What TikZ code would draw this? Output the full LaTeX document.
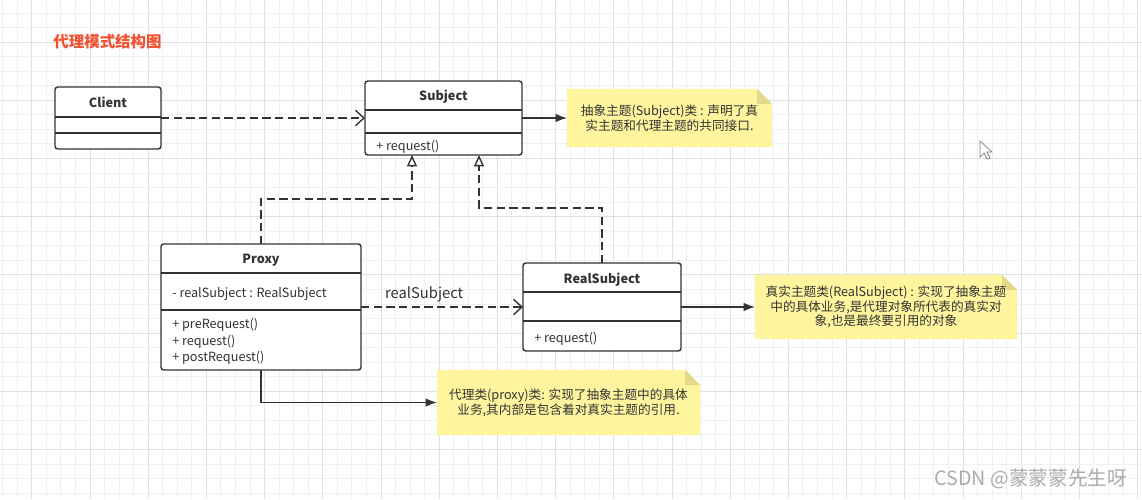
\documentclass[tikz,border=0pt]{standalone}
\usepackage{fontspec}
\setmainfont{Noto Sans CJK SC}
\usetikzlibrary{arrows.meta,calc}

\pgfdeclarelayer{grid}
\pgfdeclarelayer{background}
\pgfsetlayers{grid,background,main}

\definecolor{linec}{RGB}{51,51,51}
\definecolor{notey}{RGB}{255,245,158}
\definecolor{notefold}{RGB}{228,216,138}
\definecolor{titlec}{RGB}{242,82,50}
\definecolor{gridmin}{RGB}{240,240,242}
\definecolor{gridmaj}{RGB}{224,224,228}
\definecolor{markc}{RGB}{172,172,172}

\begin{document}
\begin{tikzpicture}[x=0.025cm, y=-0.025cm]

\tikzstyle{box}=[draw=linec, line width=1pt, rounded corners=2pt, fill=white, inner sep=0pt, outer sep=0pt]
\tikzstyle{sep}=[draw=linec, line width=1pt]
\tikzstyle{head}=[font=\fontsize{9}{11}\selectfont\bfseries, text=linec, inner sep=0pt]
\tikzstyle{attr}=[font=\fontsize{9}{11.6}\selectfont, text=linec, inner sep=0pt, anchor=west, align=left]
\tikzstyle{note}=[inner sep=0pt, outer sep=0pt, align=center, text=linec, font=\fontsize{9}{10.5}\selectfont]
\tikzstyle{dep}=[draw=linec, line width=1pt, dash pattern=on 6pt off 3pt]
\tikzstyle{link}=[draw=linec, line width=1pt]
\tikzstyle{openarrow}=[-{Straight Barb[length=6pt,width=11pt,line width=1pt]}]
\tikzstyle{inherit}=[-{Triangle[open,length=8pt,width=7pt,line width=1pt,fill=white]}]
\tikzstyle{fillarrow}=[-{Latex[length=8pt,width=6pt]}]

\useasboundingbox (0,0) rectangle (1142,499);

% grid of the canvas
\begin{pgfonlayer}{grid}
\fill[white] (0,0) rectangle (1142,499);
\foreach \k in {0,...,78} {
  \pgfmathsetmacro{\gx}{2.7+14.55*\k}
  \pgfmathtruncatemacro{\m}{mod(\k,4)}
  \ifnum\m=2 \draw[gridmaj, line width=0.7pt] (\gx,0) -- (\gx,499);
  \else \draw[gridmin, line width=0.7pt] (\gx,0) -- (\gx,499); \fi
}
\foreach \k in {0,...,33} {
  \pgfmathsetmacro{\gy}{13+14.55*\k}
  \pgfmathtruncatemacro{\m}{mod(\k,4)}
  \ifnum\m=2 \draw[gridmaj, line width=0.7pt] (0,\gy) -- (1142,\gy);
  \else \draw[gridmin, line width=0.7pt] (0,\gy) -- (1142,\gy); \fi
}
\end{pgfonlayer}

\node (title) [font=\fontsize{11}{13}\selectfont\bfseries, text=titlec, inner sep=0pt] at (107.5,42) {代理模式结构图};

% classes
\node (client) [box, minimum width=2.65cm, minimum height=1.55cm] at (108,118) {};
\draw[sep] (client.west |- 0,117) -- (client.east |- 0,117);
\draw[sep] (client.west |- 0,133) -- (client.east |- 0,133);
\node (clientT) [head] at (108,102.5) {Client};

\node (subject) [box, minimum width=3.925cm, minimum height=1.85cm] at (443.5,118) {};
\draw[sep] (subject.west |- 0,110) -- (subject.east |- 0,110);
\draw[sep] (subject.west |- 0,133) -- (subject.east |- 0,133);
\node (subjectT) [head] at (443.5,97) {Subject};
\node (subjectM) [attr] at (376,146.5) {+ request()};

\node (proxy) [box, minimum width=5cm, minimum height=3.15cm] at (261,307) {};
\draw[sep] (proxy.west |- 0,273) -- (proxy.east |- 0,273);
\draw[sep] (proxy.west |- 0,310) -- (proxy.east |- 0,310);
\node (proxyT) [head] at (261,260.5) {Proxy};
\node (proxyA) [attr] at (172,293.5) {- realSubject : RealSubject};
\node (proxyM) [attr] at (172,341.5) {+ preRequest()\\+ request()\\+ postRequest()};

\node (real) [box, minimum width=3.95cm, minimum height=2.2cm] at (602,307) {};
\draw[sep] (real.west |- 0,292) -- (real.east |- 0,292);
\draw[sep] (real.west |- 0,321) -- (real.east |- 0,321);
\node (realT) [head] at (602,279.5) {RealSubject};
\node (realM) [attr] at (534,338.5) {+ request()};

% notes
\node (note1) [note, minimum width=5.125cm, minimum height=1.45cm] at (669.5,118)
  {抽象主题(Subject)类 : 声明了真\\实主题和代理主题的共同接口.};
\node (note2) [note, minimum width=6.575cm, minimum height=1.625cm] at (568.5,402.5)
  {代理类(proxy)类: 实现了抽象主题中的具体\\业务,其内部是包含着对真实主题的引用.};
\node (note3) [note, minimum width=6.55cm, minimum height=1.6cm] at (886,307)
  {真实主题类(RealSubject) : 实现了抽象主题\\中的具体业务,是代理对象所代表的真实对\\象,也是最终要引用的对象};

\begin{pgfonlayer}{background}
\foreach \n in {note1,note2,note3} {
  \fill[notey] (\n.south west) -- (\n.north west) -- ([xshift=-0.375cm]\n.north east)
    -- ([yshift=-0.375cm]\n.north east) -- (\n.south east) -- cycle;
  \fill[notefold] ([xshift=-0.375cm]\n.north east) -- ([xshift=-0.375cm,yshift=-0.375cm]\n.north east)
    -- ([yshift=-0.375cm]\n.north east) -- cycle;
}
\end{pgfonlayer}

% connectors
\draw[dep, openarrow] (client) -- (subject);
\draw[dep, openarrow] (proxy) -- node[pos=0.39, above=3pt, inner sep=0pt, font=\fontsize{10.5}{12}\selectfont, text=linec] (lbl) {realSubject} (real);
\draw[dep, inherit] (proxy.north) -- ++(0,-45) -| ($(subject.south)+(-31.5,0)$);
\draw[dep, inherit] (real.north) -- ++(0,-55) -| ($(subject.south)+(35.5,0)$);
\draw[link, fillarrow] (subject) -- (note1);
\draw[link, fillarrow] (real) -- (note3);
\draw[link, fillarrow] (proxy.south) |- (note2.west);

% mouse pointer
\draw[fill=white, draw=gray, line width=0.5pt] (980,141) -- (980,157) -- (984,153) -- (987,159)
  -- (990,158) -- (987,152) -- (992,152) -- cycle;

\node (mark) [font=\fontsize{14}{16}\selectfont, text=markc, inner sep=0pt] at (1031,479) {CSDN @蒙蒙蒙先生呀};

\end{tikzpicture}
\end{document}
